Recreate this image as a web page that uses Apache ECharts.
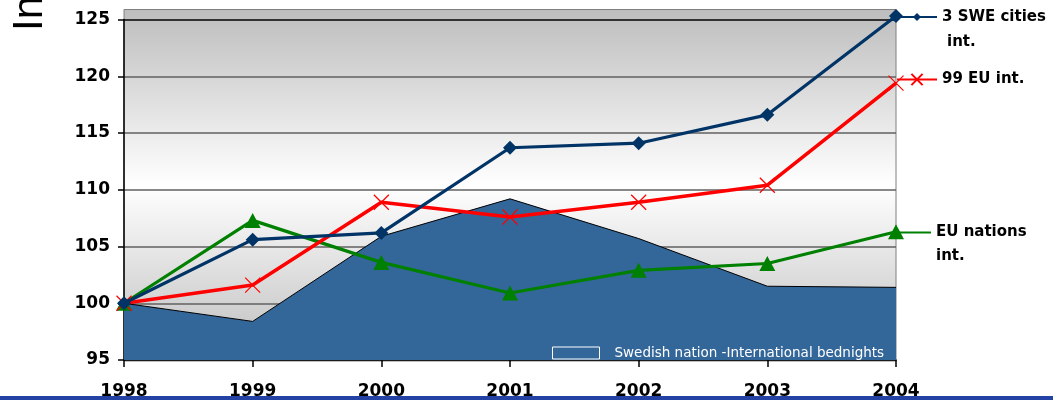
<!DOCTYPE html>
<html>
<head>
<meta charset="utf-8">
<script src="https://cdn.jsdelivr.net/npm/echarts@6/dist/echarts.min.js"></script>
<style>
  html, body { margin: 0; padding: 0; background: #ffffff; }
  #chart { width: 1053px; height: 400px; }
</style>
</head>
<body>
<div id="chart"></div>
<script>
// Bednight index, 1998 = 100
const years = ['1998', '1999', '2000', '2001', '2002', '2003', '2004'];
const yTicks = { min: 95, max: 125, interval: 5 };

const sweCities = [100, 105.6, 106.2, 113.7, 114.1, 116.6, 125.3];
const euInt99 = [100, 101.6, 108.9, 107.6, 108.9, 110.4, 119.4];
const euNations = [100, 107.3, 103.6, 100.9, 102.9, 103.5, 106.3];
const swedishNation = [100, 98.4, 105.9, 109.2, 105.7, 101.5, 101.4];

const names = {
  swe: '3 SWE cities int.',
  eu99: '99 EU int.',
  euNat: 'EU nations int.',
  swedish: 'Swedish nation -International bednights'
};

const FONT = 'DejaVu Sans';
const GRID = { left: 124, right: 157, top: 19.5, bottom: 39 };
const crossPath = 'path://M0,0L10,10M10,0L0,10';

const chart = echarts.init(document.getElementById('chart'), null, { renderer: 'canvas' });

const legendText = { color: '#000', fontFamily: FONT, fontWeight: 'bold', fontSize: 15 };

chart.setOption({
  animation: false,
  backgroundColor: '#ffffff',
  grid: Object.assign({ containLabel: false }, GRID),
  xAxis: {
    type: 'category',
    data: years,
    boundaryGap: false,
    axisLine: { lineStyle: { color: '#000', width: 1.5 } },
    axisTick: { show: true, length: 7, lineStyle: { color: '#000', width: 1.5 } },
    axisLabel: { color: '#000', fontFamily: FONT, fontWeight: 'bold', fontSize: 17, margin: 23 },
    splitLine: { show: false }
  },
  yAxis: {
    type: 'value',
    min: yTicks.min,
    max: yTicks.max,
    interval: yTicks.interval,
    axisLine: { show: true, lineStyle: { color: '#000', width: 1.5 } },
    axisTick: { show: true, length: 6, lineStyle: { color: '#000', width: 1.5 } },
    axisLabel: { color: '#000', fontFamily: FONT, fontWeight: 'bold', fontSize: 17, margin: 14 },
    splitLine: {
      show: true,
      lineStyle: { color: ['#606060', '#606060', '#606060', '#606060', '#606060', '#606060', '#000000'], width: 1.5 }
    }
  },
  legend: [
    {
      data: [names.swe], left: 896, top: 9.5, padding: 0,
      itemWidth: 40, itemHeight: 10,
      formatter: () => '3 SWE cities',
      textStyle: Object.assign({ padding: [3, 0, 0, 0] }, legendText), selectedMode: false
    },
    {
      data: [names.eu99], left: 896, top: 72, padding: 0,
      itemWidth: 40, itemHeight: 14,
      textStyle: Object.assign({ padding: [4, 0, 0, 0] }, legendText), selectedMode: false
    },
    {
      data: [{ name: names.euNat, itemStyle: { opacity: 0 } }], left: 896, top: 225, padding: 0,
      itemWidth: 34, itemHeight: 10,
      formatter: () => 'EU nations',
      textStyle: Object.assign({ padding: [2, 0, 0, 0] }, legendText), selectedMode: false
    },
    {
      data: [{ name: names.swedish, icon: 'rect' }], left: 552, top: 346, padding: 0,
      itemWidth: 47, itemHeight: 12,
      itemStyle: { color: '#336699', borderColor: '#ffffff', borderWidth: 1 },
      textStyle: { color: '#ffffff', fontFamily: FONT, fontSize: 13.5, padding: [0, 0, 0, 10] },
      selectedMode: false
    }
  ],
  graphic: [
    {
      type: 'rect', z: -10, silent: true,
      shape: { x: 124, y: 9.5, width: 772, height: 351.5 },
      style: {
        fill: new echarts.graphic.LinearGradient(0, 0, 0, 1, [
          { offset: 0, color: '#bdbdbd' },
          { offset: 0.5, color: '#ffffff' },
          { offset: 1, color: '#bdbdbd' }
        ]),
        stroke: '#808080', lineWidth: 1
      }
    },
    {
      type: 'text', silent: true, x: 30, y: 31, rotation: Math.PI / 2,
      style: { text: 'Index', fontFamily: 'Liberation Sans', fontSize: 42, fill: '#000', align: 'left', verticalAlign: 'middle' }
    },
    {
      type: 'text', silent: true, x: 947, y: 42,
      style: { text: 'int.', fontFamily: FONT, fontWeight: 'bold', fontSize: 15, fill: '#000', align: 'left', verticalAlign: 'middle' }
    },
    {
      type: 'text', silent: true, x: 936, y: 256,
      style: { text: 'int.', fontFamily: FONT, fontWeight: 'bold', fontSize: 15, fill: '#000', align: 'left', verticalAlign: 'middle' }
    },
    {
      type: 'rect', z: -5, silent: true,
      shape: { x: 0, y: 396, width: 1053, height: 4 },
      style: { fill: '#2342a4' }
    }
  ],
  series: [
    {
      name: names.swedish,
      type: 'line',
      data: swedishNation,
      symbol: 'none',
      lineStyle: { color: '#000000', width: 1 },
      itemStyle: { color: '#336699' },
      areaStyle: { color: '#336699', opacity: 1, origin: 'start' },
      z: 2
    },
    {
      name: names.euNat,
      type: 'line',
      data: euNations,
      symbol: 'triangle',
      symbolSize: [16, 15],
      lineStyle: { color: '#008000', width: 3.2 },
      itemStyle: { color: '#008000' },
      z: 3
    },
    {
      name: names.eu99,
      type: 'line',
      data: euInt99,
      symbol: crossPath,
      symbolSize: 15,
      lineStyle: { color: '#ff0000', width: 3.5 },
      itemStyle: { color: '#ff0000', borderColor: '#ff0000', borderWidth: 1.2 },
      z: 4
    },
    {
      name: names.swe,
      type: 'line',
      data: sweCities,
      symbol: 'diamond',
      symbolSize: 14,
      clip: false,
      lineStyle: { color: '#003366', width: 3.2 },
      itemStyle: { color: '#003366' },
      z: 5
    }
  ]
});
</script>
</body>
</html>
